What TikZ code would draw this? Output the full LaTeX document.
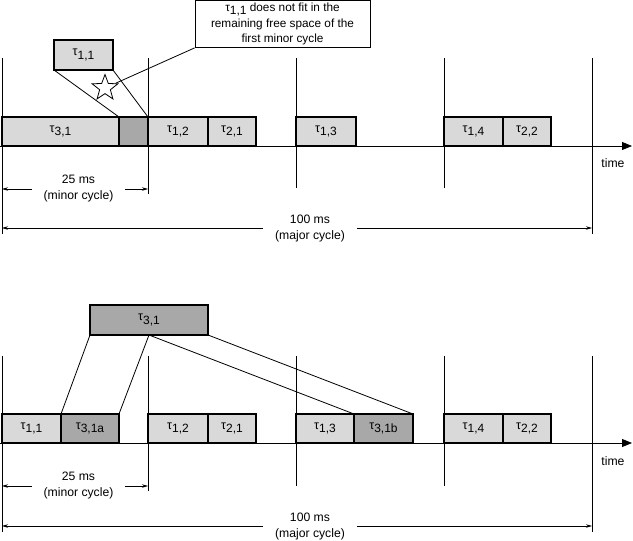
\documentclass[tikz,border=0pt]{standalone}
\usepackage{fontspec}
\setmainfont{Liberation Sans}
\usetikzlibrary{arrows.meta,positioning,calc,shapes.geometric}
\definecolor{jobgray}{gray}{0.85}
\definecolor{splitgray}{gray}{0.66}
\newcommand{\tsk}[1]{τ\raisebox{-0.55ex}{\fontsize{12}{14}\selectfont #1}}
\tikzset{
  job/.style={draw, line width=1.5pt, fill=jobgray, anchor=south west,
              minimum height=29pt, inner sep=0pt, outer sep=0pt,
              font=\fontsize{12.5}{14}\selectfont},
  split/.style={job, fill=splitgray},
  note/.style={draw, line width=0.8pt, fill=white, align=center,
               minimum width=175pt, minimum height=47pt, inner sep=1pt,
               font=\fontsize{11.8}{15.5}\selectfont},
  tick/.style={line width=0.8pt},
  axis/.style={line width=0.8pt, -{Triangle[length=10pt,width=8pt]}},
  dim/.style={line width=0.7pt, -{Stealth[length=6pt,width=3.5pt]}},
  link/.style={line width=0.8pt},
  lbl/.style={font=\fontsize{12.2}{16}\selectfont, align=center, inner sep=1pt},
}
\begin{document}
\begin{tikzpicture}[x=1pt,y=-1pt]
  \useasboundingbox (0,0) rectangle (633,541);
  % upper schedule: tau_1,1 does not fit
  \foreach \x/\e in {2/234,148/194,296/188,444/188,592/234}
    \draw[tick] (\x,58) -- (\x,\e);
  \coordinate (ax0) at (0,146);
  \coordinate (ax1) at (632,146);
  \draw[axis] (ax0) -- (ax1);
  \node[lbl] (time1) at (613,163) {time};
  \node[job,minimum width=117pt] (j31) at (2,146) {\tsk{3,1}};
  \node[split,minimum width=29pt,right=0pt of j31] (free) {};
  \node[job,minimum width=60pt,right=0pt of free] (j12) {\tsk{1,2}};
  \node[job,minimum width=48pt,right=0pt of j12] (j21) {\tsk{2,1}};
  \node[job,minimum width=60pt] (j13) at (296,146) {\tsk{1,3}};
  \node[job,minimum width=59pt] (j14) at (444,146) {\tsk{1,4}};
  \node[job,minimum width=48pt,right=0pt of j14] (j22) {\tsk{2,2}};
  \node[job,minimum width=59pt,minimum height=30pt] (f11) at (54,70) {\tsk{1,1}};
  \draw[link] (f11.south west) -- (j31.north east);
  \draw[link] (f11.south east) -- (free.north east);
  \node[star,star points=5,star point ratio=2.4,draw,line width=0.8pt,
        minimum size=27pt,inner sep=0pt] (star) at (105,88) {};
  \node[note] (note) at (282.5,24) {\tsk{1,1} does not fit in the\\
    remaining free space of the\\first minor cycle};
  \draw[link] (note.south west) -- (star);
  \coordinate (m0) at (2,189);
  \coordinate (m1) at (148,189);
  \node[lbl,minimum width=93pt] (minor1) at (78.5,189) {25 ms\\(minor cycle)};
  \draw[dim] (minor1.west) -- (m0);
  \draw[dim] (minor1.east) -- (m1);
  \coordinate (M0) at (2,228);
  \coordinate (M1) at (592,228);
  \node[lbl,minimum width=94pt] (major1) at (310,229) {100 ms\\(major cycle)};
  \draw[dim] (major1.west |- M0) -- (M0);
  \draw[dim] (major1.east |- M1) -- (M1);

  % lower schedule: tau_3,1 split in two
  \foreach \x/\e in {2/532,148/491,296/486,444/486,592/532}
    \draw[tick] (\x,356) -- (\x,\e);
  \coordinate (bx0) at (0,443);
  \coordinate (bx1) at (632,443);
  \draw[axis] (bx0) -- (bx1);
  \node[lbl] (time2) at (613,461) {time};
  \node[job,minimum width=59pt] (b11) at (2,443) {\tsk{1,1}};
  \node[split,minimum width=58pt,right=0pt of b11] (b31a) {\tsk{3,1a}};
  \node[job,minimum width=60pt] (b12) at (148,443) {\tsk{1,2}};
  \node[job,minimum width=48pt,right=0pt of b12] (b21) {\tsk{2,1}};
  \node[job,minimum width=58pt] (b13) at (296,443) {\tsk{1,3}};
  \node[split,minimum width=59pt,right=0pt of b13] (b31b) {\tsk{3,1b}};
  \node[job,minimum width=59pt] (b14) at (444,443) {\tsk{1,4}};
  \node[job,minimum width=48pt,right=0pt of b14] (b22) {\tsk{2,2}};
  \node[split,minimum width=118pt,minimum height=30pt] (big31) at (90,335) {\tsk{3,1}};
  \draw[link] (big31.south west) -- (b31a.north west);
  \draw[link] (big31.south) -- (b31a.north east);
  \draw[link] (big31.south) -- (b31b.north west);
  \draw[link] (big31.south east) -- (b31b.north east);
  \coordinate (n0) at (2,486);
  \coordinate (n1) at (148,486);
  \node[lbl,minimum width=93pt] (minor2) at (78.5,486) {25 ms\\(minor cycle)};
  \draw[dim] (minor2.west) -- (n0);
  \draw[dim] (minor2.east) -- (n1);
  \coordinate (N0) at (2,526);
  \coordinate (N1) at (592,526);
  \node[lbl,minimum width=94pt] (major2) at (310,527) {100 ms\\(major cycle)};
  \draw[dim] (major2.west |- N0) -- (N0);
  \draw[dim] (major2.east |- N1) -- (N1);
\end{tikzpicture}
\end{document}
